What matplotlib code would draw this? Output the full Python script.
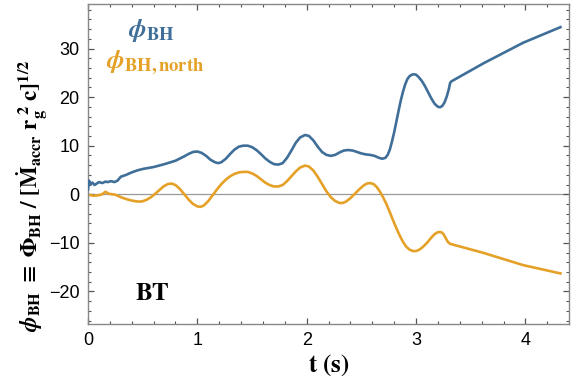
import matplotlib
matplotlib.use("Agg")
import matplotlib.pyplot as plt
from matplotlib.ticker import MultipleLocator

plt.rcParams['mathtext.fontset'] = 'stix'
plt.rcParams['font.family'] = ['Liberation Sans', 'DejaVu Sans']

t_bh = [0.0, 0.01, 0.02, 0.04, 0.06, 0.08, 0.10, 0.13, 0.16, 0.18, 0.21, 0.24, 0.27, 0.30,
        0.35, 0.40, 0.45, 0.50, 0.60, 0.70, 0.80, 0.88, 0.92, 0.96, 1.00, 1.04, 1.08, 1.12,
        1.16, 1.19, 1.22, 1.26, 1.30, 1.34, 1.38, 1.42, 1.46, 1.50, 1.54, 1.58, 1.62, 1.66,
        1.70, 1.74, 1.78, 1.82, 1.86, 1.90, 1.94, 1.985, 2.02, 2.06, 2.10, 2.14, 2.18, 2.22,
        2.26, 2.30, 2.34, 2.38, 2.42, 2.46, 2.50, 2.54, 2.58, 2.62, 2.66, 2.69, 2.72, 2.74,
        2.76, 2.78, 2.80, 2.82, 2.84, 2.86, 2.88, 2.90, 2.92, 2.94, 2.96, 2.98, 3.00, 3.02,
        3.05, 3.08, 3.11, 3.14, 3.17, 3.20, 3.22, 3.24, 3.26, 3.28, 3.30, 3.31, 3.32, 3.62,
        3.98, 4.32]
phi_bh = [1.0, 2.8, 2.0, 2.4, 1.9, 2.2, 2.5, 2.3, 2.6, 2.5, 2.7, 2.5, 2.8, 3.6,
          4.0, 4.5, 4.9, 5.2, 5.6, 6.2, 6.9, 7.8, 8.3, 8.7, 8.8, 8.5, 7.9, 7.1,
          6.6, 6.4, 6.6, 7.3, 8.3, 9.2, 9.8, 10.0, 10.0, 9.7, 9.1, 8.3, 7.4, 6.7,
          6.2, 6.1, 6.4, 7.5, 9.0, 10.6, 11.7, 12.2, 12.0, 11.1, 9.8, 8.7, 8.1, 7.9,
          8.1, 8.6, 9.0, 9.1, 9.0, 8.7, 8.4, 8.2, 8.1, 7.9, 7.5, 7.3, 7.5, 8.1,
          9.2, 10.9, 12.8, 15.0, 17.2, 19.3, 21.1, 22.6, 23.7, 24.3, 24.6, 24.7, 24.6, 24.2,
          23.4, 22.3, 21.0, 19.7, 18.6, 18.0, 17.9, 18.2, 18.9, 20.1, 21.7, 22.8, 23.2, 27.0,
          31.2, 34.4]

t_north = [0.0, 0.05, 0.10, 0.13, 0.16, 0.19, 0.25, 0.30, 0.35, 0.40, 0.45, 0.49, 0.53,
           0.57, 0.61, 0.65, 0.69, 0.73, 0.765, 0.80, 0.84, 0.88, 0.92, 0.96, 1.00, 1.03,
           1.06, 1.10, 1.14, 1.18, 1.22, 1.26, 1.30, 1.34, 1.38, 1.42, 1.46, 1.50, 1.54,
           1.58, 1.62, 1.66, 1.70, 1.74, 1.78, 1.82, 1.86, 1.90, 1.94, 1.985, 2.02, 2.06,
           2.10, 2.14, 2.18, 2.22, 2.26, 2.30, 2.33, 2.36, 2.40, 2.44, 2.48, 2.52, 2.55,
           2.58, 2.61, 2.64, 2.67, 2.70, 2.73, 2.76, 2.79, 2.82, 2.85, 2.88, 2.91, 2.94,
           2.97, 3.00, 3.03, 3.06, 3.10, 3.14, 3.17, 3.20, 3.23, 3.25, 3.27, 3.29, 3.31,
           3.62, 3.98, 4.32]
phi_north = [-0.1, -0.3, -0.2, 0.0, 0.5, 0.1, -0.1, -0.6, -1.0, -1.3, -1.5, -1.5, -1.2,
             -0.7, 0.0, 0.8, 1.6, 2.1, 2.2, 1.9, 1.1, 0.0, -1.1, -2.0, -2.5, -2.6,
             -2.3, -1.4, -0.2, 1.0, 2.1, 3.0, 3.7, 4.2, 4.5, 4.6, 4.6, 4.3, 3.8,
             3.1, 2.4, 1.9, 1.6, 1.6, 1.9, 2.7, 3.7, 4.7, 5.5, 5.9, 5.7, 4.9,
             3.6, 2.1, 0.6, -0.6, -1.4, -1.8, -1.8, -1.5, -0.8, 0.1, 1.0, 1.8, 2.2,
             2.3, 2.1, 1.5, 0.5, -0.7, -2.1, -3.7, -5.4, -7.0, -8.5, -9.8, -10.8, -11.4,
             -11.7, -11.7, -11.4, -10.9, -10.0, -8.9, -8.2, -7.8, -7.8, -8.2, -9.0, -9.8, -10.2,
             -12.1, -14.6, -16.3]

xticks = [0, 1, 2, 3, 4]
yticks = [-20, -10, 0, 10, 20, 30]

blue = '#3f6f98'
orange = '#e5a127'

fig = plt.figure(figsize=(5.77, 3.82), dpi=100)
ax = fig.add_axes([0.1525, 0.152, 0.834, 0.838])

ax.axhline(0, color='#999999', lw=0.9, zorder=1)
ax.plot(t_bh, phi_bh, color=blue, lw=1.9, zorder=3, solid_joinstyle='round')
ax.plot(t_north, phi_north, color=orange, lw=1.9, zorder=2, solid_joinstyle='round')

ax.set_xlim(0, 4.4)
ax.set_ylim(-26.7, 39.2)
ax.set_xticks(xticks)
ax.set_yticks(yticks)
ax.set_yticklabels(['\u221220', '\u221210', '0', '10', '20', '30'])
ax.xaxis.set_minor_locator(MultipleLocator(0.2))
ax.yaxis.set_minor_locator(MultipleLocator(2))
ax.tick_params(which='both', direction='in', top=True, right=True, color='#555555')
ax.tick_params(which='major', length=4, width=0.9, labelsize=13, pad=6)
ax.tick_params(which='minor', length=2.2, width=0.8)
for s in ax.spines.values():
    s.set_color('#888888')
    s.set_linewidth(1.0)

ax.set_xlabel(r'$\mathbf{t\ (s)}$', fontsize=18, labelpad=2)
ax.set_ylabel(r'$\mathbfit{\phi}_{\mathbf{BH}} \mathbf{\ \equiv\ \Phi_{BH}\ /\ [\dot{M}_{accr}\ r_g^{\ 2}\ c]^{1/2}}$',
              fontsize=16.6)
ax.yaxis.set_label_coords(-0.08, 0.40)

ax.text(0.59, -20.3, r'$\mathbf{BT}$', fontsize=18, ha='center', va='center')
ax.text(0.58, 33.8, r'$\mathbfit{\phi}_{\mathbf{BH}}$', fontsize=19, color=blue, ha='center', va='center')
ax.text(0.61, 27.0, r'$\mathbfit{\phi}_{\mathbf{BH,north}}$', fontsize=19, color=orange, ha='center', va='center')

fig.savefig('out.png', dpi=100)
